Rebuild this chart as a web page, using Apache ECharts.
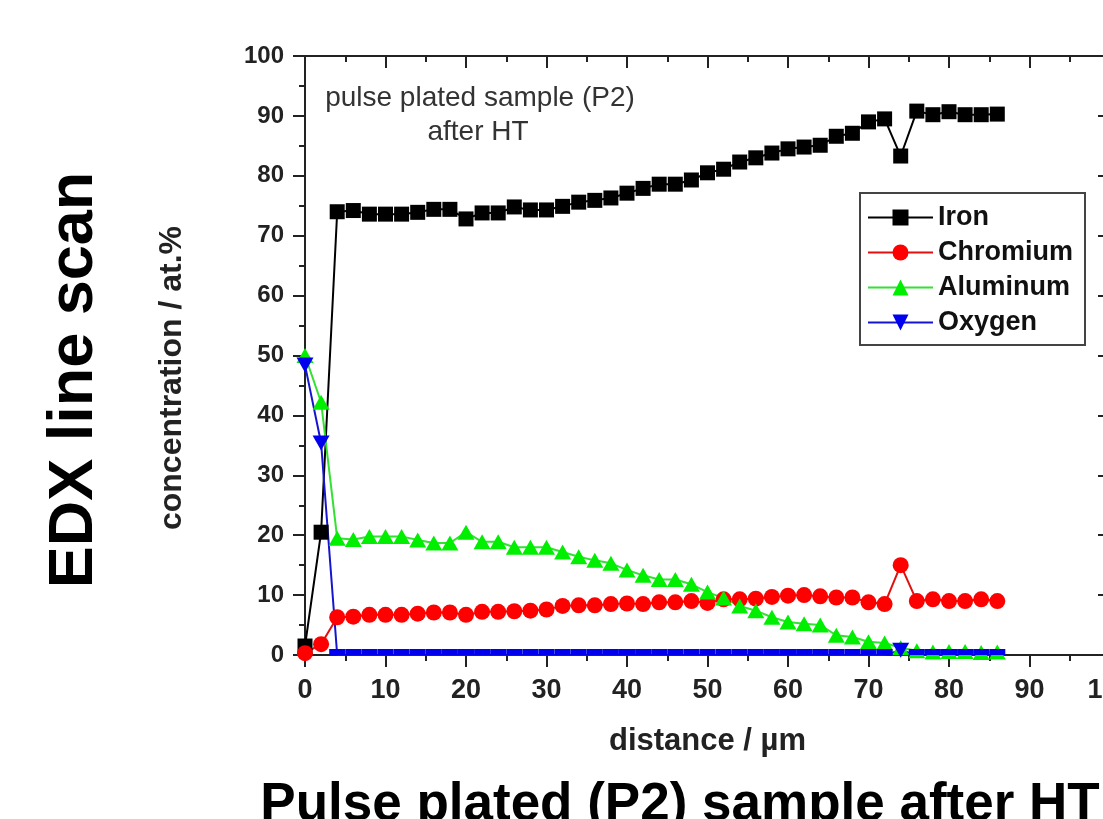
<!DOCTYPE html>
<html>
<head>
<meta charset="utf-8">
<script src="https://cdn.jsdelivr.net/npm/echarts@6/dist/echarts.min.js"></script>
<style>
  html, body { margin: 0; padding: 0; background: #fff; }
  #container { width: 1103px; height: 819px; }
</style>
</head>
<body>
<div id="container"></div>
<script>
var dom = document.getElementById("container");
var myChart = echarts.init(dom);

var FONT = "'Liberation Sans', Arial, Helvetica, sans-serif";

// distance / µm
var distance = [0, 2, 4, 6, 8, 10, 12, 14, 16, 18, 20, 22, 24, 26, 28, 30, 32, 34, 36, 38, 40, 42,
    44, 46, 48, 50, 52, 54, 56, 58, 60, 62, 64, 66, 68, 70, 72, 74, 76, 78, 80, 82, 84, 86];

// concentration / at.%
var iron = [1.5, 20.5, 74.0, 74.2, 73.6, 73.6, 73.6, 73.9, 74.4, 74.4, 72.8, 73.8, 73.8, 74.8, 74.3, 74.3,
    74.9, 75.6, 75.9, 76.3, 77.1, 77.9, 78.6, 78.6, 79.3, 80.5, 81.1, 82.3, 83.0, 83.8, 84.5, 84.8,
    85.1, 86.6, 87.1, 89.0, 89.5, 83.3, 90.8, 90.2, 90.7, 90.2, 90.2, 90.3];
var chromium = [0.3, 1.8, 6.3, 6.4, 6.7, 6.7, 6.7, 6.9, 7.1, 7.1, 6.7, 7.2, 7.2, 7.3, 7.4, 7.6,
    8.2, 8.3, 8.3, 8.5, 8.6, 8.5, 8.8, 8.8, 9.0, 8.7, 9.3, 9.3, 9.4, 9.7, 9.9, 10.0,
    9.8, 9.6, 9.6, 8.8, 8.5, 15.0, 9.0, 9.3, 9.0, 9.0, 9.3, 9.0];
var aluminum = [50.0, 42.2, 19.5, 19.3, 19.8, 19.8, 19.8, 19.2, 18.7, 18.7, 20.5, 18.9, 18.9, 18.0, 18.0, 18.0,
    17.2, 16.4, 15.8, 15.3, 14.2, 13.3, 12.6, 12.6, 11.8, 10.5, 9.5, 8.2, 7.4, 6.3, 5.5, 5.2,
    5.0, 3.3, 3.0, 2.2, 2.0, 1.2, 0.7, 0.5, 0.6, 0.6, 0.4, 0.5];
var oxygen = [48.4, 35.4, 0, 0, 0, 0, 0, 0, 0, 0, 0, 0, 0, 0, 0, 0,
    0, 0, 0, 0, 0, 0, 0, 0, 0, 0, 0, 0, 0, 0, 0, 0,
    0, 0, 0, 0, 0, 0.8, 0, 0, 0, 0, 0, 0];

var xTicks = { min: 0, max: 100, interval: 10 };
var yTicks = { min: 0, max: 100, interval: 10 };

function pairs(values) {
    return values.map(function (v, i) {
        return [distance[i], v];
    });
}

// markers sitting on the zero line are cut by the frame in the original
var oxygenData = oxygen.map(function (v, i) {
    if (v === 0) {
        return {
            value: [distance[i], v],
            symbol: 'rect',
            symbolSize: [16, 6],
            symbolOffset: [0, -3],
            symbolRotate: 0
        };
    }
    return [distance[i], v];
});

var axisColor = '#222';

function baseAxis(extra) {
    var a = {
        type: 'value',
        axisLine: { show: true, onZero: false, lineStyle: { color: axisColor, width: 2 } },
        axisTick: { show: true, length: 12, lineStyle: { color: axisColor, width: 2 } },
        minorTick: { show: true, splitNumber: 2, length: 6, lineStyle: { color: axisColor, width: 2 } },
        splitLine: { show: false },
        minorSplitLine: { show: false }
    };
    for (var k in extra) a[k] = extra[k];
    return a;
}

var option = {
    animation: false,
    backgroundColor: '#fff',
    grid: {
        left: 305,
        top: 56,
        width: 805,
        height: 599,
        containLabel: false,
        outerBoundsMode: 'none'
    },
    xAxis: [
        baseAxis({
            position: 'bottom',
            min: xTicks.min, max: xTicks.max, interval: xTicks.interval,
            name: 'distance / µm',
            nameLocation: 'middle',
            nameGap: 71,
            nameTextStyle: { fontSize: 31, fontWeight: 'bold', color: '#222', fontFamily: FONT },
            axisLabel: { margin: 22, fontSize: 27, fontWeight: 'bold', color: '#222', fontFamily: FONT }
        }),
        baseAxis({
            position: 'top',
            min: xTicks.min, max: xTicks.max, interval: xTicks.interval,
            axisTick: { show: true, inside: true, length: 12, lineStyle: { color: axisColor, width: 2 } },
            minorTick: { show: true, splitNumber: 2, length: 6, lineStyle: { color: axisColor, width: 2 } },
            axisLabel: { show: false }
        })
    ],
    yAxis: [
        baseAxis({
            position: 'left',
            min: yTicks.min, max: yTicks.max, interval: yTicks.interval,
            axisLabel: { margin: 21, fontSize: 24, fontWeight: 'bold', color: '#222', fontFamily: FONT }
        }),
        baseAxis({
            position: 'right',
            min: yTicks.min, max: yTicks.max, interval: yTicks.interval,
            axisTick: { show: true, inside: true, length: 12, lineStyle: { color: axisColor, width: 2 } },
            minorTick: { show: true, splitNumber: 2, length: 6, lineStyle: { color: axisColor, width: 2 } },
            axisLabel: { show: false }
        })
    ],
    legend: {
        orient: 'vertical',
        left: 860,
        top: 193,
        itemWidth: 65,
        itemHeight: 20,
        itemGap: 6,
        padding: [10, 12, 8, 7],
        borderColor: '#444',
        borderWidth: 2,
        lineStyle: { width: 2 },
        textStyle: { fontSize: 27, fontWeight: 'bold', color: '#111', lineHeight: 29, fontFamily: FONT },
        data: ['Iron', 'Chromium', 'Aluminum', 'Oxygen']
    },
    series: [
        {
            name: 'Iron',
            type: 'line',
            data: pairs(iron),
            symbol: 'rect',
            symbolSize: 15,
            color: '#000',
            lineStyle: { color: '#000', width: 2 },
            itemStyle: { color: '#000' }
        },
        {
            name: 'Chromium',
            type: 'line',
            data: pairs(chromium),
            symbol: 'circle',
            symbolSize: 16,
            color: '#ff0000',
            lineStyle: { color: '#e01010', width: 2 },
            itemStyle: { color: '#ff0000' }
        },
        {
            name: 'Aluminum',
            type: 'line',
            data: pairs(aluminum),
            symbol: 'triangle',
            symbolSize: [17, 15],
            color: '#00ee00',
            lineStyle: { color: '#33e033', width: 2 },
            itemStyle: { color: '#00ee00' }
        },
        {
            name: 'Oxygen',
            type: 'line',
            data: oxygenData,
            symbol: 'triangle',
            symbolRotate: 180,
            symbolSize: [17, 15],
            color: '#0000ee',
            lineStyle: { color: '#1515d0', width: 2 },
            itemStyle: { color: '#0000ee' }
        }
    ],
    graphic: {
        elements: [
            {
                type: 'text',
                x: 480, y: 98,
                style: {
                    text: 'pulse plated sample (P2)',
                    font: '28px ' + FONT,
                    fill: '#333',
                    textAlign: 'center',
                    textVerticalAlign: 'middle'
                }
            },
            {
                type: 'text',
                x: 478, y: 132,
                style: {
                    text: 'after HT',
                    font: '28px ' + FONT,
                    fill: '#333',
                    textAlign: 'center',
                    textVerticalAlign: 'middle'
                }
            },
            {
                type: 'text',
                x: 172, y: 378,
                rotation: Math.PI / 2,
                style: {
                    text: 'concentration / at.%',
                    font: 'bold 32px ' + FONT,
                    fill: '#222',
                    textAlign: 'center',
                    textVerticalAlign: 'middle'
                }
            },
            {
                type: 'text',
                x: 75, y: 380,
                rotation: Math.PI / 2,
                style: {
                    text: 'EDX line scan',
                    font: 'bold 63px ' + FONT,
                    fill: '#000',
                    textAlign: 'center',
                    textVerticalAlign: 'middle'
                }
            },
            {
                type: 'text',
                x: 680, y: 779,
                style: {
                    text: 'Pulse plated (P2) sample after HT',
                    font: 'bold 53px ' + FONT,
                    fill: '#000',
                    textAlign: 'center',
                    textVerticalAlign: 'top'
                }
            }
        ]
    }
};

myChart.setOption(option);
</script>
</body>
</html>
